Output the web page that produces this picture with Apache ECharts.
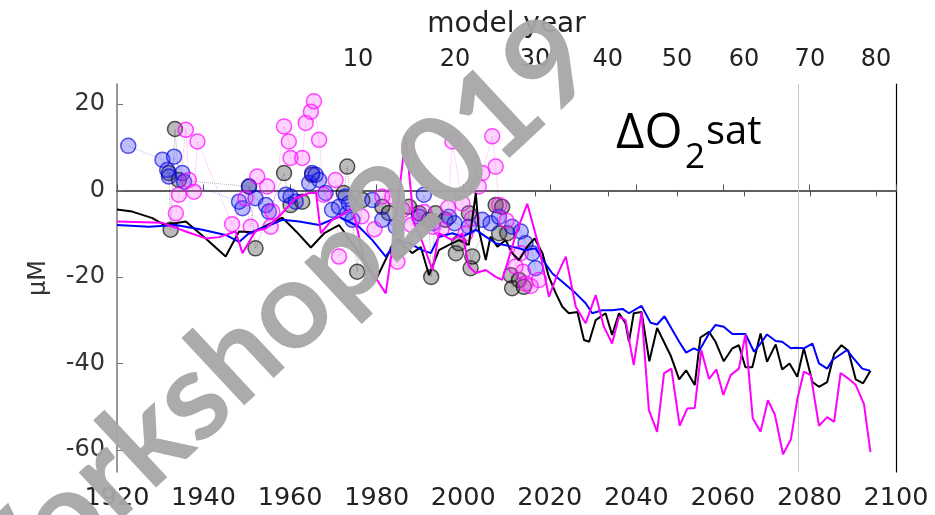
<!DOCTYPE html>
<html>
<head>
<meta charset="utf-8">
<script src="https://cdn.jsdelivr.net/npm/echarts@6/dist/echarts.min.js"></script>
<style>
  html, body { margin: 0; padding: 0; background: #ffffff; }
  #chart { width: 935px; height: 515px; }
</style>
</head>
<body>
<div id="chart"></div>
<script>
// Simulated ΔO2sat (µM): model runs as lines, observations as circles.
const blackYears = [1920, 1923.5, 1928.2, 1930.9, 1935.9, 1940.5, 1945.1, 1948.2, 1951.3, 1958.2, 1961.5, 1964.8, 1968, 1971.3, 1975.5, 1979.8, 1982.8, 1984.8, 1988.2, 1990.2, 1992.1, 1994.4, 1996.7, 1999.0, 2001.3, 2002.9, 2003.6, 2005.2, 2006.3, 2007.9, 2009.8, 2011.3, 2012.9, 2014.8, 2016.5, 2018.3, 2019.8, 2021.4, 2022.9, 2024.4, 2026.4, 2027.9, 2029.1, 2030.6, 2032.9, 2034.4, 2036.0, 2037.5, 2038.3, 2039.4, 2041.2, 2043.0, 2044.8, 2047.9, 2049.9, 2051.5, 2053.5, 2054.8, 2056.8, 2058.3, 2060.2, 2062.2, 2063.7, 2065.2, 2066.8, 2068.7, 2070.2, 2072.2, 2073.7, 2075.4, 2077.2, 2078.7, 2080.7, 2082.2, 2084.1, 2085.7, 2087.4, 2089.0, 2090.7, 2092.4, 2094.1];
const blackValues = [-4.4, -4.9, -6.4, -8.0, -7.2, -11.1, -15.3, -9.5, -9.7, -6.3, -9.6, -13.2, -9.8, -8.0, -13.8, -20.7, -14.5, -11.1, -14.5, -13.1, -19.6, -13.8, -12.6, -11.5, -12.6, -0.6, -9.1, -16.1, -10.7, -13.0, -11.5, -14.5, -16.1, -13.0, -11.1, -14.5, -20.0, -23.8, -26.9, -28.4, -28.1, -34.6, -35.0, -30.0, -28.4, -33.4, -28.4, -30.7, -35.0, -28.4, -28.1, -39.5, -31.8, -38.1, -43.7, -41.6, -45.0, -34.0, -32.7, -35.0, -39.5, -36.5, -35.8, -40.9, -40.9, -33.1, -39.6, -35.6, -41.4, -40.0, -43.1, -36.5, -44.3, -45.4, -44.3, -37.8, -35.8, -37.1, -43.7, -44.6, -41.7];

const blueYears = [1920, 1927.4, 1933.6, 1939.7, 1945.1, 1948.2, 1950.5, 1954.4, 1958.2, 1962.1, 1966.7, 1971.3, 1975.9, 1979.0, 1982.1, 1984.8, 1987.5, 1990.5, 1992.5, 1994.4, 1997.5, 1999.8, 2002.9, 2005.2, 2007.5, 2011.3, 2014.4, 2016.7, 2018.7, 2020.6, 2022.9, 2026.0, 2028.3, 2029.8, 2032.1, 2034.4, 2036.8, 2038.3, 2041.2, 2043.3, 2044.8, 2046.5, 2049.9, 2051.5, 2053.3, 2054.5, 2056.8, 2058.3, 2060.2, 2062.2, 2065.2, 2067.2, 2068.7, 2070.2, 2072.2, 2073.7, 2075.7, 2076.8, 2078.7, 2080.7, 2082.2, 2084.1, 2085.3, 2088.7, 2089.9, 2092.2, 2094.0];
const blueValues = [-8.0, -8.4, -8.0, -9.1, -10.3, -11.9, -9.9, -8.4, -6.8, -7.2, -8.0, -6.1, -8.4, -11.5, -15.3, -11.5, -12.2, -13.8, -14.5, -10.7, -9.9, -10.7, -9.1, -10.7, -12.2, -13.0, -13.8, -13.4, -16.5, -19.2, -21.1, -23.8, -26.1, -28.4, -27.7, -27.7, -27.4, -28.4, -26.7, -30.6, -31.0, -29.1, -35.0, -37.5, -36.5, -37.1, -33.1, -31.1, -31.5, -33.2, -33.2, -37.3, -35.4, -33.3, -34.8, -35.0, -36.5, -36.4, -36.5, -35.4, -40.0, -41.2, -39.2, -36.9, -38.5, -41.2, -41.7];

const magentaYears = [1920, 1930.5, 1935.9, 1940.5, 1943.6, 1947.4, 1949.0, 1952.0, 1954.4, 1957.4, 1961.3, 1964.4, 1966.0, 1967.1, 1969.7, 1972.8, 1974.4, 1977.1, 1982.1, 1984.0, 1986.7, 1988.6, 1989.8, 1992.9, 1994.4, 1997.5, 1999.8, 2001.3, 2002.9, 2005.2, 2007.5, 2009.0, 2012.5, 2014.8, 2017.5, 2019.8, 2021.7, 2023.7, 2026.0, 2028.3, 2030.6, 2032.5, 2034.4, 2036.0, 2037.5, 2039.4, 2041.2, 2042.9, 2044.8, 2046.4, 2048.1, 2050.0, 2051.8, 2053.5, 2055.0, 2056.8, 2058.5, 2060.1, 2061.8, 2063.7, 2065.2, 2066.9, 2068.7, 2070.4, 2072.0, 2073.9, 2075.7, 2077.2, 2078.7, 2080.3, 2082.2, 2084.1, 2085.7, 2087.2, 2089.0, 2090.7, 2092.6, 2094.1];
const magentaValues = [-7.2, -7.5, -9.5, -11.1, -10.8, -9.5, -14.5, -9.4, -8.8, -6.1, -1.8, -0.6, -0.6, -9.9, -6.8, -5.3, -3.8, -16.1, -23.8, -10.7, 12.5, -7.6, -9.9, -18.4, -9.9, -11.5, -9.9, -17.6, -19.1, -18.4, -20.0, -20.7, -9.1, -3.1, -13.0, -24.6, -19.6, -15.3, -26.9, -30.7, -24.2, -31.5, -35.4, -29.2, -30.0, -40.4, -28.1, -50.8, -55.8, -42.3, -41.2, -54.4, -50.4, -50.3, -36.9, -43.6, -41.4, -47.3, -42.7, -41.2, -33.3, -52.7, -55.8, -48.5, -51.8, -61.0, -57.6, -48.3, -41.9, -42.7, -54.4, -52.4, -53.5, -42.2, -43.5, -45.0, -49.4, -60.5];

// Observations
const obsBlueYears = [1922.6, 1930.5, 1931.6, 1932.0, 1933.2, 1935.1, 1935.5, 1948.2, 1949.0, 1950.5, 1952.0, 1954.4, 1955.1, 1959.0, 1960.1, 1961.3, 1964.4, 1965.1, 1965.9, 1966.7, 1968.2, 1969.7, 1971.3, 1972.8, 1973.2, 1973.6, 1974.4, 1979.0, 1981.3, 1984.4, 1989.8, 1990.9, 1993.0, 1996.7, 1998.0, 2001.3, 2004.4, 2006.3, 2008.3, 2011.3, 2013.3, 2014.4, 2016.0, 2016.7];
const obsBlueValues = [10.3, 7.1, 4.7, 3.2, 7.8, 4.0, 2.0, -2.6, -4.1, 0.9, -1.8, -3.4, -4.9, -1.0, -1.4, -2.6, 1.7, 4.0, 3.6, 2.4, -0.6, -4.5, -3.8, -1.4, -5.3, -3.0, -6.8, -2.2, -6.8, -8.4, -6.1, -1.0, -7.6, -6.1, -7.6, -8.4, -6.8, -7.6, -6.1, -8.4, -9.5, -12.2, -14.5, -18.0];

const obsBlackYears = [1932.0, 1932.4, 1933.4, 1934.3, 1950.5, 1952.0, 1958.6, 1960.1, 1962.8, 1965.1, 1972.4, 1973.2, 1975.5, 1976.7, 1981.3, 1982.8, 1984.8, 1987.5, 1989.8, 1992.1, 1992.6, 1993.6, 1995.9, 1998.3, 1999.0, 2001.3, 2001.7, 2002.1, 2007.5, 2008.3, 2009.0, 2010.2, 2011.0, 2011.3, 2012.9, 2014.0];
const obsBlackValues = [4.0, -9.1, 14.2, 2.4, 0.9, -13.4, 4.0, -3.4, -2.6, 3.6, -0.6, 5.5, -18.8, -2.2, -3.8, -5.2, -13.8, -3.8, -5.3, -6.8, -20.0, -5.3, -6.8, -14.5, -12.2, -5.3, -18.0, -15.3, -3.4, -9.9, -3.8, -9.9, -19.6, -22.6, -20.7, -22.3];

const obsMagentaYears = [1933.6, 1934.3, 1935.9, 1936.6, 1937.8, 1938.6, 1946.6, 1949.7, 1950.9, 1952.4, 1954.7, 1955.5, 1955.9, 1958.6, 1959.7, 1960.1, 1962.8, 1963.6, 1964.8, 1965.5, 1966.7, 1967.8, 1970.5, 1971.3, 1976.5, 1979.5, 1981.3, 1983.6, 1984.8, 1986.0, 1988.0, 1991.0, 1993.0, 1995.0, 1996.5, 1997.5, 1999.8, 2000.5, 2002.0, 2003.6, 2004.4, 2006.7, 2007.5, 2008.3, 2010.0, 2012.1, 2013.3, 2013.8, 2014.4, 2015.6, 2017.5];
const obsMagentaValues = [-5.3, -1.0, 14.0, 2.4, -0.3, 11.3, -7.8, -1.8, -8.4, 3.2, 0.9, -8.4, -4.9, 14.8, 11.3, 7.5, 7.5, 15.6, 18.2, 20.6, 11.7, -1.0, 2.4, -15.3, -6.0, -9.0, -1.4, -1.4, -16.5, -4.5, -8.0, -5.0, -8.4, -9.0, -4.0, 11.3, -3.0, -10.0, -6.5, 0.9, 4.0, 12.5, 5.5, -3.4, -7.0, -17.6, -14.5, -18.8, -21.5, -22.1, -20.7];

// Axis ticks
const valueTicks = [-60, -40, -20, 0, 20];
const modelYearLabels = [10, 20, 30, 40, 50, 60, 70, 80];
const modelYearAt = [1975.7, 1998.1, 2016.6, 2033.4, 2049.4, 2064.9, 2080.1, 2095.4];
const markerYear = 2077.3;

const pairs = (xs, ys) => xs.map((x, i) => [x, ys[i]]);

const chart = echarts.init(document.getElementById('chart'), null, { renderer: 'canvas' });

const lineSeries = (name, xs, ys, color) => ({
  name, type: 'line', data: pairs(xs, ys), showSymbol: false, symbol: 'none',
  lineStyle: { color, width: 2 }, z: 5, animation: false
});

const obsSeries = (name, xs, ys, fill, border) => ({
  name, type: 'line', data: pairs(xs, ys), symbol: 'circle', symbolSize: 15, showSymbol: true,
  lineStyle: { color: border, width: 1, type: 'dotted', opacity: 0.45 },
  itemStyle: { color: fill, borderColor: border, borderWidth: 1.5 },
  z: 3, animation: false
});

const labelFont = 'DejaVu Sans';

chart.setOption({
  animation: false,
  backgroundColor: '#ffffff',
  grid: { left: 117, right: 39, top: 84, bottom: 43, containLabel: false },
  xAxis: [
    {
      type: 'value', position: 'bottom', min: 1920, max: 2100, interval: 20,
      axisLine: { show: true, lineStyle: { color: '#555', width: 1.5 } },
      axisTick: { show: true, inside: true, length: 6, lineStyle: { color: '#555' } },
      axisLabel: {
        color: '#222', fontFamily: labelFont, fontSize: 25.5, margin: 13,
        showMinLabel: true, showMaxLabel: true, formatter: (v) => String(v)
      },
      splitLine: { show: false }
    },
    {
      type: 'value', position: 'top', min: 1920, max: 2100,
      name: 'model year', nameLocation: 'middle', nameGap: 45,
      nameTextStyle: { color: '#222', fontFamily: labelFont, fontSize: 28 },
      axisLine: { show: true, lineStyle: { color: '#555', width: 1.5 } },
      axisTick: { show: true, inside: true, length: 6, customValues: modelYearAt, lineStyle: { color: '#555' } },
      axisLabel: {
        color: '#222', fontFamily: labelFont, fontSize: 24, margin: 12,
        customValues: modelYearAt,
        formatter: (v) => {
          const i = modelYearAt.findIndex(p => Math.abs(p - v) < 1e-6);
          return i >= 0 ? String(modelYearLabels[i]) : '';
        }
      },
      splitLine: { show: false }
    }
  ],
  yAxis: [
    {
      type: 'value', position: 'left', min: -65.1, max: 24.6,
      name: 'μM', nameLocation: 'middle', nameGap: 66, nameRotate: 90,
      nameTextStyle: { color: '#333', fontFamily: labelFont, fontSize: 24 },
      axisLine: { show: true, lineStyle: { color: '#777', width: 1.5 } },
      axisTick: { show: true, inside: true, length: 6, customValues: valueTicks, lineStyle: { color: '#777' } },
      axisLabel: { color: '#333', fontFamily: labelFont, fontSize: 24, margin: 12, customValues: valueTicks },
      splitLine: { show: false }
    },
    {
      type: 'value', position: 'right', min: -65.1, max: 24.6,
      axisLine: { show: true, lineStyle: { color: '#000', width: 1.2 } },
      axisTick: { show: false }, axisLabel: { show: false }, splitLine: { show: false }
    }
  ],
  series: [
    obsSeries('obs black', obsBlackYears, obsBlackValues, 'rgba(60,60,60,0.35)', 'rgba(0,0,0,0.65)'),
    obsSeries('obs blue', obsBlueYears, obsBlueValues, 'rgba(40,40,255,0.30)', 'rgba(0,0,220,0.65)'),
    obsSeries('obs magenta', obsMagentaYears, obsMagentaValues, 'rgba(255,80,255,0.25)', 'rgba(255,0,255,0.7)'),
    lineSeries('black', blackYears, blackValues, '#000000'),
    Object.assign(lineSeries('blue', blueYears, blueValues, '#0000ff'), {
      markLine: {
        silent: true, symbol: 'none', label: { show: false },
        lineStyle: { color: '#c4c4c4', width: 1, type: 'solid' },
        data: [{ xAxis: markerYear }]
      }
    }),
    lineSeries('magenta', magentaYears, magentaValues, '#ff00ff')
  ],
  graphic: [
    {
      type: 'text', left: 616, top: 110, z: 50,
      style: { text: 'ΔO', fontFamily: 'Open Sans', fontSize: 49, fill: '#000' }
    },
    {
      type: 'text', left: 685, top: 141, z: 50,
      style: { text: '2', fontFamily: 'Open Sans', fontSize: 35, fill: '#000' }
    },
    {
      type: 'text', left: 706, top: 113, z: 50,
      style: { text: 'sat', fontFamily: 'Open Sans', fontSize: 40, fill: '#000' }
    },
    {
      type: 'text', x: 262, y: 334, rotation: 43 * Math.PI / 180, z: 100,
      style: {
        text: 'Workshop2019', fontFamily: 'Lato', fontWeight: 'bold', fontSize: 124,
        fill: '#a6a6a6', align: 'center', verticalAlign: 'middle', opacity: 0.95
      }
    }
  ]
});
</script>
</body>
</html>
